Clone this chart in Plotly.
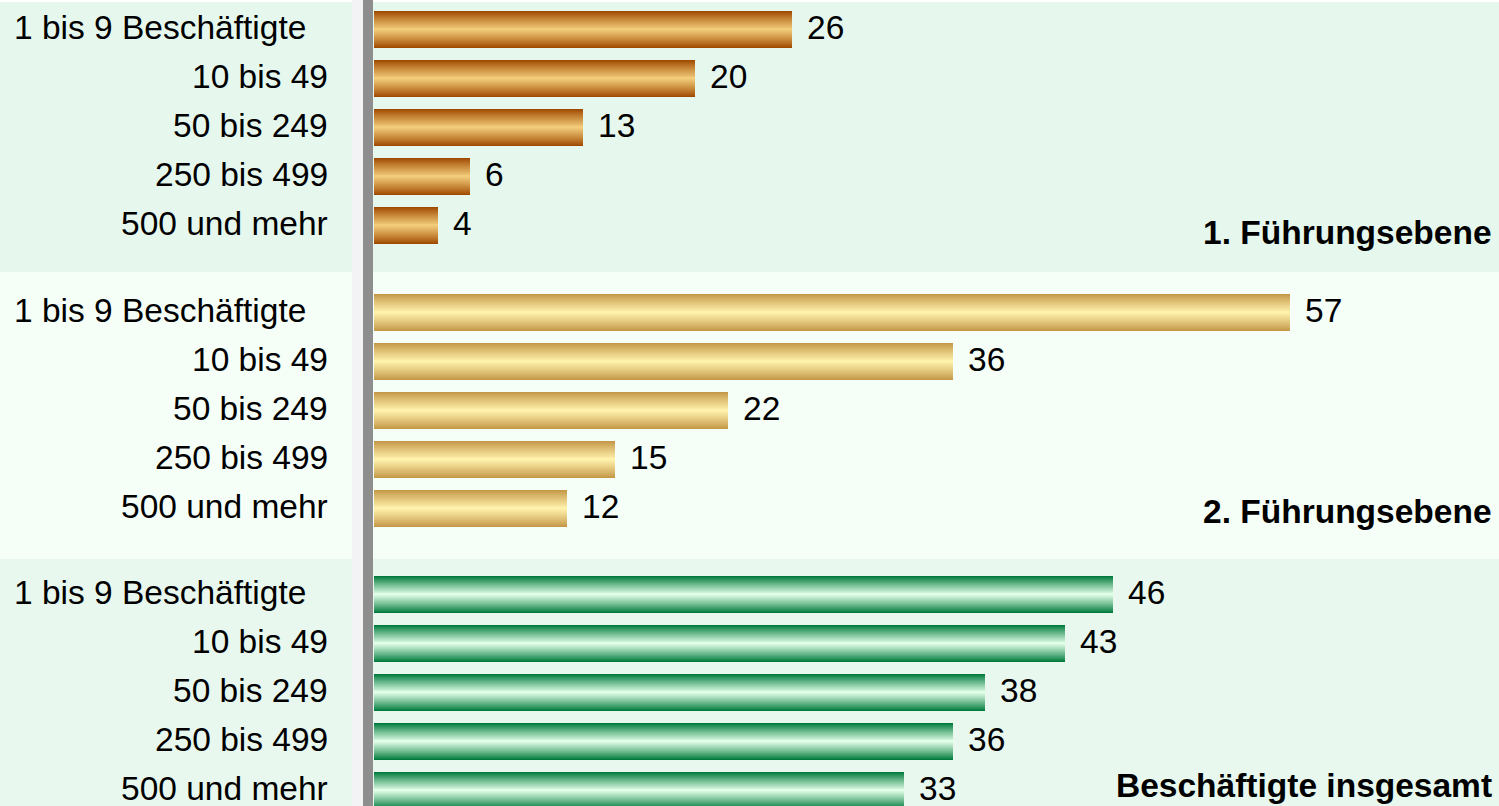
import plotly.graph_objects as go
from plotly.subplots import make_subplots

# ---------------- data ----------------
categories = ["1 bis 9 Beschäftigte", "10 bis 49", "50 bis 249", "250 bis 499", "500 und mehr"]
fuehrung1 = [26, 20, 13, 6, 4]
fuehrung2 = [57, 36, 22, 15, 12]
insgesamt = [46, 43, 38, 36, 33]
panel_titles = ["1. Führungsebene", "2. Führungsebene", "Beschäftigte insgesamt"]

# ---------------- style ----------------
W, H = 1499, 806
FONT = "Liberation Sans, Arial, sans-serif"
FS = 33.5
edge_colors = [(160, 74, 0), (196, 152, 72), (0, 122, 60)]
mid_colors = [(242, 204, 122), (255, 242, 172), (226, 255, 232)]
panel_bg = ["#E6F8EE", "#F5FFF8", "#E8F8EE"]
# panel pixel bounds (top, bottom) and pixel of first category center
panel_px = [(2, 272), (272, 559), (559, 806)]
first_center = [29.5, 312.5, 594.5]
STEP = 49.0
BAR_W = 37.0 / STEP
X0_PX = 374
PX_PER_UNIT = 16.07
N_LAYERS = 19
TXT_YSHIFT = 2

series = [fuehrung1, fuehrung2, insgesamt]

fig = make_subplots(rows=3, cols=1, vertical_spacing=0)

def mix(a, b, t):
    return "rgb(%d,%d,%d)" % tuple(round(a[i] + (b[i] - a[i]) * t) for i in range(3))

for p, vals in enumerate(series):
    row = p + 1
    for k in range(N_LAYERS):
        t = k / (N_LAYERS - 1)
        w = BAR_W * (1 - k / N_LAYERS)
        fig.add_trace(
            go.Bar(
                x=vals, y=categories, orientation="h",
                width=w, marker=dict(color=mix(edge_colors[p], mid_colors[p], t ** 0.9), line=dict(width=0)),
                hoverinfo="skip", showlegend=False,
            ),
            row=row, col=1,
        )

x_max = (W - X0_PX) / PX_PER_UNIT
x_dom0 = X0_PX / W

for p in range(3):
    top, bot = panel_px[p]
    top_b = top if p > 0 else 0
    dom = [1 - bot / H, 1 - top_b / H]
    c0 = first_center[p]
    rng = [(bot - c0) / STEP, (top_b - c0) / STEP]
    sfx = "" if p == 0 else str(p + 1)
    fig.layout["xaxis" + sfx].update(domain=[x_dom0, 1], range=[0, x_max], visible=False, fixedrange=True)
    fig.layout["yaxis" + sfx].update(domain=dom, range=rng, visible=False, type="category",
                                     categoryorder="array", categoryarray=categories)
    # background of panel
    fig.add_shape(type="rect", xref="paper", yref="paper", x0=0, x1=1,
                  y0=1 - bot / H, y1=1 - top / H, fillcolor=panel_bg[p], line_width=0, layer="below")
    yref = "y" + sfx
    # category labels
    for i, c in enumerate(categories):
        fig.add_annotation(x=330 / W, xref="paper", y=c, yref=yref, text=c, showarrow=False,
                           xanchor="right", yanchor="middle", xshift=(-22 if i == 0 else 0),
                           yshift=TXT_YSHIFT,
                           font=dict(family=FONT, size=FS, color="black"))
    # value labels
    for c, v in zip(categories, series[p]):
        fig.add_annotation(x=v, xref="x" + sfx, y=c, yref=yref, text=str(v), showarrow=False,
                           xanchor="left", yanchor="middle", xshift=13, yshift=TXT_YSHIFT,
                           font=dict(family=FONT, size=FS, color="black"))
    # panel title
    title_y = [0.147, 0.167, 0.085][p]
    fig.add_annotation(x=1494 / W, xref="paper", y=title_y, yref=yref + " domain",
                       text="<b>%s</b>" % panel_titles[p], showarrow=False,
                       xanchor="right", yanchor="middle",
                       font=dict(family=FONT, size=FS, color="black"))

# separator strips
fig.add_shape(type="rect", xref="paper", yref="paper", x0=352 / W, x1=363 / W, y0=0, y1=1,
              fillcolor="#F3F3F5", line_width=0, layer="below")
fig.add_shape(type="rect", xref="paper", yref="paper", x0=363 / W, x1=373 / W, y0=0, y1=1,
              fillcolor="#8E8E8E", line_width=0, layer="above")

fig.update_layout(
    width=W, height=H, margin=dict(l=0, r=0, t=0, b=0),
    barmode="overlay", bargap=0,
    paper_bgcolor="white", plot_bgcolor="rgba(0,0,0,0)",
    font=dict(family=FONT, size=FS, color="black"),
)

fig.write_html("out.html", config={"displayModeBar": False},
               post_script="document.body.style.margin='0';document.body.style.overflow='hidden';")
